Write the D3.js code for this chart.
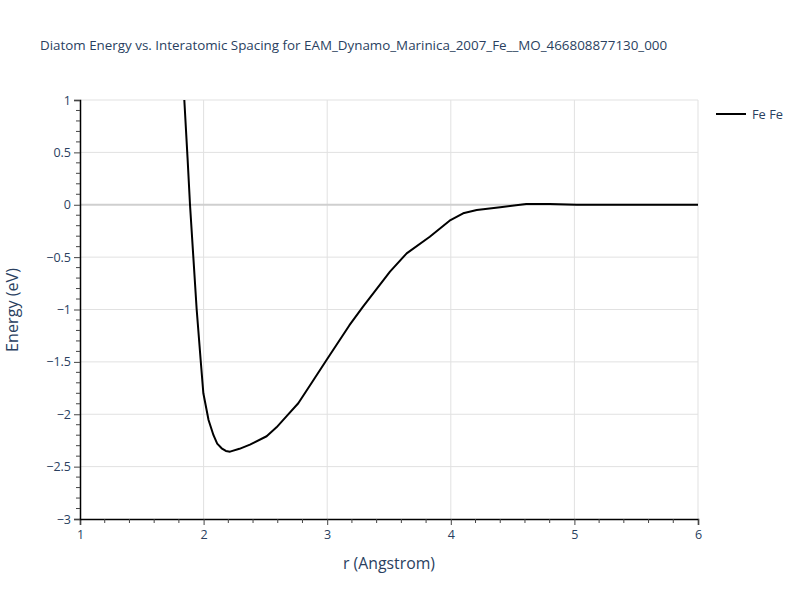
<!DOCTYPE html>
<html><head><meta charset="utf-8">
<script src="https://cdn.jsdelivr.net/npm/d3@7"></script>
<style>body{margin:0;background:#fff}svg{font-family:"Open Sans",sans-serif}</style>
</head><body><svg id="c" width="800" height="600"></svg>
<script>
const title = "Diatom Energy vs. Interatomic Spacing for EAM_Dynamo_Marinica_2007_Fe__MO_466808877130_000";
const seriesName = "Fe Fe";
const rValues = [1.844, 1.87, 1.89, 1.917, 1.944, 1.976, 1.998, 2.04, 2.08, 2.11, 2.146, 2.18, 2.214, 2.29, 2.375, 2.51, 2.59, 2.67, 2.766, 2.88, 2.996, 3.18, 3.29, 3.508, 3.643, 3.83, 3.99, 4.10, 4.21, 4.40, 4.61, 4.80, 5.02, 5.5, 6.0];
const energyValues = [1.0, 0.45, 0.0, -0.5, -1.0, -1.48, -1.80, -2.055, -2.20, -2.28, -2.325, -2.35, -2.357, -2.33, -2.29, -2.21, -2.125, -2.02, -1.895, -1.69, -1.48, -1.15, -0.973, -0.639, -0.464, -0.305, -0.152, -0.082, -0.05, -0.024, 0.007, 0.007, 0.0, 0.0, 0.0];
const xTicks = [1, 2, 3, 4, 5, 6];
const yTicks = [1, 0.5, 0, -0.5, -1, -1.5, -2, -2.5, -3];

const svg = d3.select("#c");
const L = 80, R = 698, T = 100, B = 519;
const x = d3.scaleLinear().domain([1, 6]).range([L, R]);
const y = d3.scaleLinear().domain([-3, 1]).range([B, T]);
const txt = "#2a3f5f";
const fmt = v => (v < 0 ? "\u2212" + Math.abs(v) : String(v));
function fit(sel, w) {
  const cur = sel.node().getComputedTextLength();
  const fs = parseFloat(sel.attr("font-size"));
  sel.attr("font-size", (fs * w / cur).toFixed(2));
}

// grid
svg.append("g").selectAll("line").data(xTicks.slice(1)).join("line")
  .attr("x1", d => x(d)).attr("x2", d => x(d)).attr("y1", T).attr("y2", B)
  .attr("stroke", "#e1e1e1").attr("stroke-width", 1);
svg.append("g").selectAll("line").data(yTicks.filter(d => d !== -3 && d !== 0)).join("line")
  .attr("x1", L).attr("x2", R).attr("y1", d => y(d)).attr("y2", d => y(d))
  .attr("stroke", "#e1e1e1").attr("stroke-width", 1);
svg.append("line").attr("x1", L).attr("x2", R).attr("y1", y(0)).attr("y2", y(0))
  .attr("stroke", "#cfcfcf").attr("stroke-width", 2);

// line
const line = d3.line().x((d, i) => x(rValues[i])).y(d => y(d));
svg.append("defs").append("clipPath").attr("id", "clip").append("rect")
  .attr("x", L).attr("y", T).attr("width", R - L).attr("height", B - T);
svg.append("path").datum(energyValues).attr("d", line).attr("clip-path", "url(#clip)")
  .attr("fill", "none").attr("stroke", "#000").attr("stroke-width", 2).attr("stroke-linejoin", "round");

// axes
const xMinor = d3.range(1, 6.001, 0.2).filter(v => Math.abs(v - Math.round(v)) > 1e-6);
const yMinor = d3.range(-3, 1.001, 0.1).filter(v => Math.abs(v * 2 - Math.round(v * 2)) > 1e-6);
const xAxis = svg.append("g").attr("transform", `translate(0,${B})`)
  .call(d3.axisBottom(x).tickValues(xTicks).tickSize(6).tickPadding(5).tickFormat(fmt));
const yAxis = svg.append("g").attr("transform", `translate(${L},0)`)
  .call(d3.axisLeft(y).tickValues(yTicks).tickSize(6).tickPadding(3).tickFormat(fmt));
[xAxis, yAxis].forEach(g => {
  g.select(".domain").attr("stroke", "#000").attr("stroke-width", 1.5);
  g.selectAll(".tick line").attr("stroke", "#444");
  g.selectAll("text").attr("fill", txt).attr("font-size", 12.5).attr("font-family", "'Open Sans', sans-serif");
});
svg.append("g").selectAll("line").data(xMinor).join("line")
  .attr("x1", d => x(d)).attr("x2", d => x(d)).attr("y1", B).attr("y2", B + 4).attr("stroke", "#444");
svg.append("g").selectAll("line").data(yMinor).join("line")
  .attr("x1", L - 4).attr("x2", L).attr("y1", d => y(d)).attr("y2", d => y(d)).attr("stroke", "#444");

// titles
const t = svg.append("text").attr("x", 40).attr("y", 50).attr("fill", txt).attr("font-size", 12.5).text(title);
fit(t, 628);
const xt = svg.append("text").attr("x", 389).attr("y", 569).attr("text-anchor", "middle")
  .attr("fill", txt).attr("font-size", 14).text("r (Angstrom)");
fit(xt, 92);
const yt = svg.append("text").attr("transform", `translate(18,310) rotate(-90)`).attr("text-anchor", "middle")
  .attr("fill", txt).attr("font-size", 14).text("Energy (eV)");
fit(yt, 84);

// legend
svg.append("line").attr("x1", 716).attr("x2", 746).attr("y1", 114).attr("y2", 114)
  .attr("stroke", "#000").attr("stroke-width", 2);
const lt = svg.append("text").attr("x", 752).attr("y", 118.5).attr("fill", txt).attr("font-size", 12).text(seriesName);
fit(lt, 31);
</script></body></html>
